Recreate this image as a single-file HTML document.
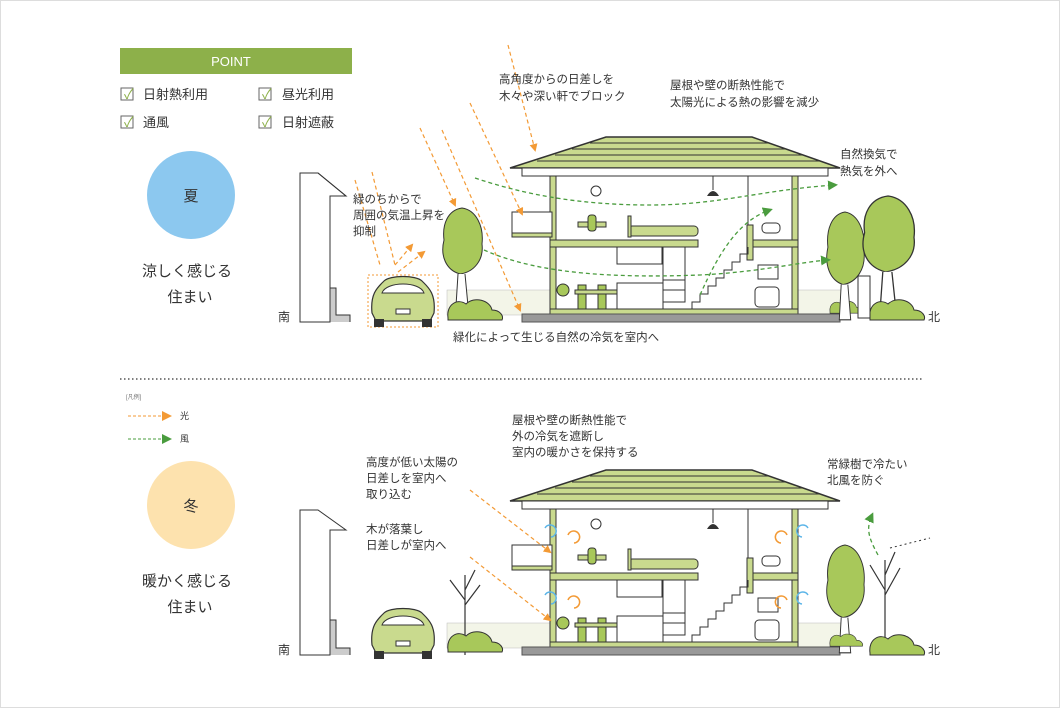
<!DOCTYPE html>
<html><head><meta charset="utf-8"><style>
html,body{margin:0;padding:0;background:#fff}
svg{display:block}
text{font-family:"Liberation Sans","Noto Sans CJK JP",sans-serif;fill:#333}
</style></head><body>
<svg width="1060" height="708" viewBox="0 0 1060 708" xmlns="http://www.w3.org/2000/svg">
<defs>
<marker id="ao" markerWidth="8" markerHeight="8" refX="6" refY="4" orient="auto" markerUnits="userSpaceOnUse"><path d="M0,0L8,4L0,8z" fill="#f39a35"/></marker>
<marker id="ag" markerWidth="10" markerHeight="10" refX="7" refY="5" orient="auto" markerUnits="userSpaceOnUse"><path d="M0,0L10,5L0,10z" fill="#4a9c3e"/></marker>
<g id="house">
 <!-- roof -->
 <polygon points="606,137 752,137 840,168 510,168" fill="#c9da8e" stroke="#333" stroke-width="1.5"/>
 <line x1="590" y1="143" x2="770" y2="143" stroke="#333"/>
 <line x1="572" y1="149" x2="787" y2="149" stroke="#333"/>
 <line x1="555" y1="155" x2="804" y2="155" stroke="#333"/>
 <line x1="537" y1="161" x2="821" y2="161" stroke="#333"/>
 <rect x="522" y="168" width="306" height="8" fill="#fff" stroke="#333"/>
 <!-- interior -->
 <rect x="550" y="176" width="247" height="136" fill="#fff" stroke="#333"/>
 <rect x="550" y="176" width="6" height="136" fill="#c9da8e" stroke="#333"/>
 <rect x="792" y="176" width="6" height="136" fill="#c9da8e" stroke="#333"/>
 <!-- floor slab -->
 <rect x="550" y="240" width="148" height="7" fill="#c9da8e" stroke="#333"/>
 <rect x="752" y="240" width="46" height="7" fill="#c9da8e" stroke="#333"/>
 <rect x="747" y="225" width="6" height="35" fill="#c9da8e" stroke="#333"/>
 <line x1="748" y1="176" x2="748" y2="225" stroke="#333"/>
 <!-- balcony -->
 <rect x="512" y="212" width="40" height="24" fill="#fff" stroke="#333"/>
 <rect x="512" y="233" width="40" height="4" fill="#c9da8e" stroke="#333"/>
 <!-- ground floor -->
 <rect x="550" y="309" width="248" height="5" fill="#c9da8e" stroke="#333"/>
 <rect x="522" y="314" width="318" height="8" fill="#999" stroke="#555"/>
 <!-- stairs -->
 <polyline points="692,309 692,302 700,302 700,294 708,294 708,286 716,286 716,278 724,278 724,270 732,270 732,262 740,262 740,254 748,254 748,247" fill="none" stroke="#333"/>
 <!-- furniture -->
 <circle cx="596" cy="191" r="5" fill="#fff" stroke="#333"/>
 <line x1="713" y1="176" x2="713" y2="190" stroke="#333"/><path d="M707,196 Q713,186 719,196z" fill="#333"/>
 <rect x="578" y="222" width="28" height="5" fill="#c9da8e" stroke="#333"/>
 <rect x="588" y="215" width="8" height="16" rx="3" fill="#a8c85a" stroke="#333"/>
 <rect x="628" y="226" width="70" height="10" rx="4" fill="#c9da8e" stroke="#333"/>
 <rect x="628" y="216" width="3" height="21" fill="#c9da8e" stroke="#333"/>
 <rect x="617" y="247" width="45" height="17" fill="#fff" stroke="#333"/>
 <rect x="663" y="247" width="22" height="55" fill="#fff" stroke="#333"/>
 <line x1="663" y1="280" x2="685" y2="280" stroke="#333"/><line x1="663" y1="290" x2="685" y2="290" stroke="#333"/>
 <rect x="617" y="283" width="46" height="26" fill="#fff" stroke="#333"/>
 <rect x="578" y="285" width="8" height="24" fill="#a8c85a" stroke="#333"/>
 <rect x="598" y="285" width="8" height="24" fill="#a8c85a" stroke="#333"/>
 <rect x="575" y="290" width="42" height="4" fill="#c9da8e" stroke="#333"/>
 <circle cx="563" cy="290" r="6" fill="#a8c85a" stroke="#333"/>
 <rect x="762" y="223" width="18" height="10" rx="4" fill="#fff" stroke="#333"/>
 <rect x="758" y="265" width="20" height="14" fill="#fff" stroke="#333"/>
 <rect x="755" y="287" width="24" height="20" rx="4" fill="#fff" stroke="#333"/>
</g>
<g id="tree">
 <path d="M0,0 C-14,2 -20,16 -18,32 C-22,48 -16,62 -2,66 C12,64 22,52 20,36 C22,18 14,2 0,0z" fill="#a8c85a" stroke="#333" stroke-width="1"/>
 <path d="M-4,66 L-6,98 L6,98 L3,66" fill="#fff" stroke="#333"/>
</g>
<g id="bush"><path d="M0,20 C-2,6 10,0 18,6 C26,-2 42,2 44,12 C52,12 56,18 54,22 L0,22z" fill="#a8c85a" stroke="#333"/></g>
<g id="car">
 <path d="M2,38 C0,18 8,12 14,6 C20,0 46,0 52,6 C58,12 66,18 64,38 L60,46 L6,46z" fill="#c9da8e" stroke="#333" stroke-width="1.2"/>
 <path d="M12,18 C16,6 50,6 54,18z" fill="#fff" stroke="#333"/>
 <rect x="4" y="44" width="10" height="8" fill="#333"/><rect x="52" y="44" width="10" height="8" fill="#333"/>
 <rect x="26" y="34" width="14" height="5" fill="#fff" stroke="#333"/>
</g>
</defs>

<rect x="0.5" y="0.5" width="1059" height="707" fill="#fff" stroke="#ddd"/>

<!-- POINT -->
<rect x="120" y="48" width="232" height="26" fill="#8db04a"/>
<text x="231" y="66" font-size="13" fill="#fff" style="fill:#fff" text-anchor="middle">POINT</text>
<g font-size="13">
<rect x="121" y="88" width="12" height="12" fill="#fff" stroke="#666"/><text x="124" y="99" font-size="14" style="fill:#8db04a">✓</text>
<text x="143" y="99">日射熱利用</text>
<rect x="259" y="88" width="12" height="12" fill="#fff" stroke="#666"/><text x="262" y="99" font-size="14" style="fill:#8db04a">✓</text>
<text x="282" y="99">昼光利用</text>
<rect x="121" y="116" width="12" height="12" fill="#fff" stroke="#666"/><text x="124" y="127" font-size="14" style="fill:#8db04a">✓</text>
<text x="143" y="127">通風</text>
<rect x="259" y="116" width="12" height="12" fill="#fff" stroke="#666"/><text x="262" y="127" font-size="14" style="fill:#8db04a">✓</text>
<text x="282" y="127">日射遮蔽</text>
</g>

<circle cx="191" cy="195" r="44" fill="#8cc8ef"/>
<text x="191" y="201" font-size="15" text-anchor="middle">夏</text>
<text x="187" y="276" font-size="15" text-anchor="middle">涼しく感じる</text>
<text x="190" y="302" font-size="15" text-anchor="middle">住まい</text>

<circle cx="191" cy="505" r="44" fill="#fde2ae"/>
<text x="191" y="511" font-size="15" text-anchor="middle">冬</text>
<text x="187" y="586" font-size="15" text-anchor="middle">暖かく感じる</text>
<text x="190" y="612" font-size="15" text-anchor="middle">住まい</text>

<!-- legend -->
<text x="126" y="399" font-size="6" style="fill:#777">[凡例]</text>
<line x1="128" y1="416" x2="162" y2="416" stroke="#f39a35" stroke-dasharray="3,2"/><path d="M162,411L172,416L162,421z" fill="#f39a35"/>
<text x="180" y="419" font-size="9">光</text>
<line x1="128" y1="439" x2="162" y2="439" stroke="#4a9c3e" stroke-dasharray="3,2"/><path d="M162,434L172,439L162,444z" fill="#4a9c3e"/>
<text x="180" y="442" font-size="9">風</text>

<line x1="120" y1="379" x2="922" y2="379" stroke="#555" stroke-dasharray="1.5,2.5" stroke-width="1.5"/>

<!-- ===== SUMMER ===== -->
<path d="M300,322 L300,173 L318,173 L346,196 L330,196 L330,322z" fill="#fff" stroke="#333"/>
<path d="M300,322 L300,173 L318,173 L346,196 L330,196 L330,322z" fill="none" stroke="#333"/>
<path d="M330,322 L330,288 L336,288 L336,315 L350,315 L350,322" fill="#ccc" stroke="#333"/>
<text x="278" y="321" font-size="12">南</text>
<rect x="447" y="290" width="400" height="25" fill="#f3f5e8" stroke="#bbb" stroke-width="0.5"/>
<use href="#house"/>
<use href="#tree" transform="translate(462,208)"/>
<use href="#bush" transform="translate(448,298)"/>
<use href="#bush" transform="translate(830,300) scale(0.6)"/>
<use href="#tree" transform="translate(845,212) scale(0.95,1.1)"/>
<use href="#tree" transform="translate(888,196) scale(1.3,1.15)"/>
<use href="#bush" transform="translate(870,298)"/>
<rect x="858" y="276" width="12" height="42" fill="#fff" stroke="#333"/>
<g transform="translate(370,275)"><path d="M-2,0 H68 V52 H-2z" fill="none" stroke="#f39a35" stroke-dasharray="2,2"/><use href="#car"/></g>
<text x="928" y="321" font-size="12">北</text>

<g stroke="#f39a35" stroke-dasharray="4,3" fill="none" stroke-width="1.2">
 <line x1="355" y1="180" x2="380" y2="265"/><line x1="372" y1="172" x2="395" y2="265"/>
 <line x1="395" y1="265" x2="412" y2="245" marker-end="url(#ao)"/><line x1="398" y1="272" x2="424" y2="252" marker-end="url(#ao)"/>
 <line x1="420" y1="128" x2="455" y2="205" marker-end="url(#ao)"/>
 <line x1="470" y1="103" x2="522" y2="214" marker-end="url(#ao)"/>
 <line x1="442" y1="130" x2="520" y2="310" marker-end="url(#ao)"/>
 <line x1="508" y1="45" x2="535" y2="150" marker-end="url(#ao)"/>
</g>
<g stroke="#4a9c3e" stroke-dasharray="4,3" fill="none" stroke-width="1.3">
 <path d="M475,178 C540,200 600,205 650,205 C720,205 760,190 835,185" marker-end="url(#ag)"/>
 <path d="M700,295 C720,250 740,220 770,210" marker-end="url(#ag)"/>
 <path d="M484,250 C540,275 620,278 700,275 C760,272 800,262 828,260" marker-end="url(#ag)"/>
</g>

<g font-size="11.5">
<text x="499" y="83">高角度からの日差しを</text>
<text x="499" y="100">木々や深い軒でブロック</text>
<text x="670" y="89">屋根や壁の断熱性能で</text>
<text x="670" y="106">太陽光による熱の影響を減少</text>
<text x="840" y="158">自然換気で</text>
<text x="840" y="175">熱気を外へ</text>
<text x="353" y="203">緑のちからで</text>
<text x="353" y="219">周囲の気温上昇を</text>
<text x="353" y="235">抑制</text>
<text x="453" y="341">緑化によって生じる自然の冷気を室内へ</text>
</g>

<!-- ===== WINTER ===== -->
<path d="M300,655 L300,510 L318,510 L346,530 L330,530 L330,655z" fill="#fff" stroke="#333"/>
<path d="M330,655 L330,620 L336,620 L336,648 L350,648 L350,655" fill="#ccc" stroke="#333"/>
<text x="278" y="654" font-size="12">南</text>
<rect x="447" y="623" width="400" height="25" fill="#f3f5e8" stroke="#bbb" stroke-width="0.5"/>
<use href="#house" transform="translate(0,333)"/>
<g stroke="#333" fill="none" stroke-width="1.2">
 <path d="M465,655 L465,575 M465,600 L450,580 M465,605 L480,585 M465,590 L475,570"/>
 <path d="M885,655 L885,560 M885,590 L870,565 M885,595 L900,568 M885,575 L895,552"/>
</g>
<use href="#bush" transform="translate(448,630)"/>
<use href="#tree" transform="translate(845,545) scale(0.95,1.1)"/>
<use href="#bush" transform="translate(830,633) scale(0.6)"/>
<use href="#bush" transform="translate(870,633)"/>
<use href="#car" transform="translate(370,607)"/>
<text x="928" y="654" font-size="12">北</text>

<g stroke="#f39a35" stroke-dasharray="4,3" fill="none" stroke-width="1.2">
 <line x1="470" y1="490" x2="550" y2="552" marker-end="url(#ao)"/>
 <line x1="470" y1="557" x2="550" y2="620" marker-end="url(#ao)"/>
</g>
<path d="M878,555 C870,540 865,530 872,515" stroke="#4a9c3e" stroke-dasharray="4,3" fill="none" stroke-width="1.3" marker-end="url(#ag)"/>
<path d="M890,548 L930,538" stroke="#333" stroke-dasharray="2,3" fill="none"/>
<g fill="none" stroke-width="1.5">
 <path d="M545,528 a6,6 0 1 1 6,9" stroke="#5cb5e8"/><path d="M545,595 a6,6 0 1 1 6,9" stroke="#5cb5e8"/>
 <path d="M568,535 a6,6 0 1 1 6,8" stroke="#f39a35"/><path d="M568,600 a6,6 0 1 1 6,8" stroke="#f39a35"/>
 <path d="M787,535 a6,6 0 1 0 -6,8" stroke="#f39a35"/><path d="M787,600 a6,6 0 1 0 -6,8" stroke="#f39a35"/>
 <path d="M808,528 a6,6 0 1 0 -6,9" stroke="#5cb5e8"/><path d="M808,595 a6,6 0 1 0 -6,9" stroke="#5cb5e8"/>
</g>

<g font-size="11.5">
<text x="512" y="424">屋根や壁の断熱性能で</text>
<text x="512" y="440">外の冷気を遮断し</text>
<text x="512" y="456">室内の暖かさを保持する</text>
<text x="366" y="466">高度が低い太陽の</text>
<text x="366" y="482">日差しを室内へ</text>
<text x="366" y="498">取り込む</text>
<text x="366" y="533">木が落葉し</text>
<text x="366" y="549">日差しが室内へ</text>
<text x="827" y="468">常緑樹で冷たい</text>
<text x="827" y="484">北風を防ぐ</text>
</g>
</svg>
</body></html>
